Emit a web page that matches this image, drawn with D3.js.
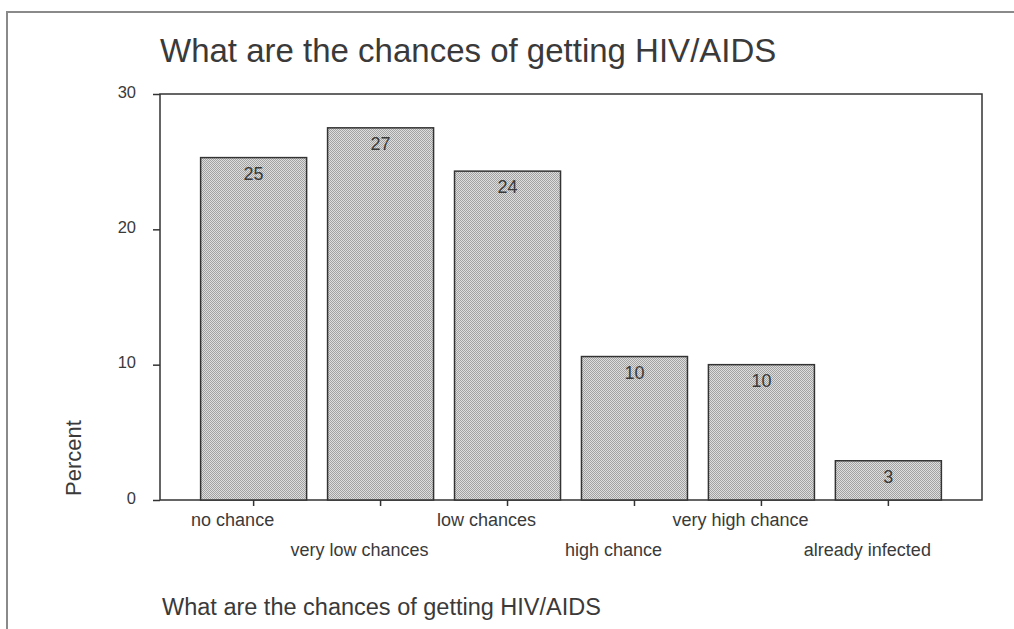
<!DOCTYPE html>
<html>
<head>
<meta charset="utf-8">
<script src="https://cdn.jsdelivr.net/npm/d3@7"></script>
<style>
  body { margin: 0; background: #fff; }
  svg text { font-family: "Liberation Sans", Arial, sans-serif; }
</style>
</head>
<body>
<div id="chart"></div>
<script>
// data
const categories = ['no chance', 'very low chances', 'low chances', 'high chance', 'very high chance', 'already infected'];
const percents = [25.3, 27.5, 24.3, 10.6, 10.0, 2.9];
const barLabels = ['25', '27', '24', '10', '10', '3'];
const yTicks = [0, 10, 20, 30];

const W = 1014, H = 629;
const margin = {top: 94, right: 32, bottom: 129, left: 160};
const width = W - margin.left - margin.right,
      height = H - margin.top - margin.bottom;

const svg = d3.select('#chart').append('svg')
    .attr('width', W)
    .attr('height', H);

// checkered fill like the old print
const defs = svg.append('defs');
const pat = defs.append('pattern')
    .attr('id', 'dots')
    .attr('width', 2).attr('height', 2)
    .attr('patternUnits', 'userSpaceOnUse');
pat.append('rect').attr('width', 2).attr('height', 2).attr('fill', '#dedede');
pat.append('rect').attr('width', 1).attr('height', 1).attr('fill', '#a2a2a2');
pat.append('rect').attr('x', 1).attr('y', 1).attr('width', 1).attr('height', 1).attr('fill', '#a2a2a2');

// page frame (top and left only)
svg.append('path')
    .attr('d', `M7,${H} L7,12 L${W},12`)
    .attr('fill', 'none')
    .attr('stroke', '#8a8a8a')
    .attr('stroke-width', 2);

svg.append('text')
    .attr('x', 160).attr('y', 62)
    .attr('font-size', 33)
    .attr('fill', '#3a3a3a')
    .text('What are the chances of getting HIV/AIDS');

const g = svg.append('g')
    .attr('transform', `translate(${margin.left},${margin.top})`);

const x = d3.scaleBand().domain(categories).range([0, width])
    .paddingInner(0.165).paddingOuter(0.32);
const y = d3.scaleLinear().domain([0, 30]).range([height, 0]);

// plot box
g.append('rect')
    .attr('width', width).attr('height', height)
    .attr('fill', 'none')
    .attr('stroke', '#333')
    .attr('stroke-width', 1.5);

// y axis
const yAxis = g.append('g')
    .call(d3.axisLeft(y).tickValues(yTicks).tickSize(7).tickPadding(17));
yAxis.select('.domain').remove();
yAxis.selectAll('line').attr('stroke', '#333').attr('stroke-width', 1.5);
yAxis.selectAll('text').attr('font-size', 16.5).attr('fill', '#3a3a3a')
    .attr('font-family', '"Liberation Sans", Arial, sans-serif')
    .attr('dy', '0.2em');

// x axis
const xAxis = g.append('g')
    .attr('transform', `translate(0,${height})`)
    .call(d3.axisBottom(x).tickSize(6).tickFormat(''));
xAxis.select('.domain').remove();
xAxis.selectAll('line').attr('stroke', '#333').attr('stroke-width', 1.5);

g.selectAll('.xlab')
    .data(categories)
    .join('text')
    .attr('class', 'xlab')
    .attr('x', d => x(d) + x.bandwidth() / 2 - 21)
    .attr('y', (d, i) => height + (i % 2 === 0 ? 26 : 56))
    .attr('text-anchor', 'middle')
    .attr('font-size', 18)
    .attr('fill', '#3a3a3a')
    .text(d => d);

// bars
g.selectAll('.bar')
    .data(percents)
    .join('rect')
    .attr('class', 'bar')
    .attr('x', (d, i) => x(categories[i]))
    .attr('y', d => y(d))
    .attr('width', x.bandwidth())
    .attr('height', d => height - y(d))
    .attr('fill', 'url(#dots)')
    .attr('stroke', '#333')
    .attr('stroke-width', 1.5);

g.selectAll('.val')
    .data(percents)
    .join('text')
    .attr('class', 'val')
    .attr('x', (d, i) => x(categories[i]) + x.bandwidth() / 2)
    .attr('y', d => y(d) + 22)
    .attr('text-anchor', 'middle')
    .attr('font-size', 18)
    .attr('fill', '#3a3a3a')
    .text((d, i) => barLabels[i]);

// y title
svg.append('text')
    .attr('transform', 'translate(81,458) rotate(-90)')
    .attr('text-anchor', 'middle')
    .attr('font-size', 22)
    .attr('fill', '#3a3a3a')
    .text('Percent');

// x title
svg.append('text')
    .attr('x', 162).attr('y', 615)
    .attr('font-size', 23.5)
    .attr('fill', '#3a3a3a')
    .text('What are the chances of getting HIV/AIDS');
</script>
</body>
</html>
